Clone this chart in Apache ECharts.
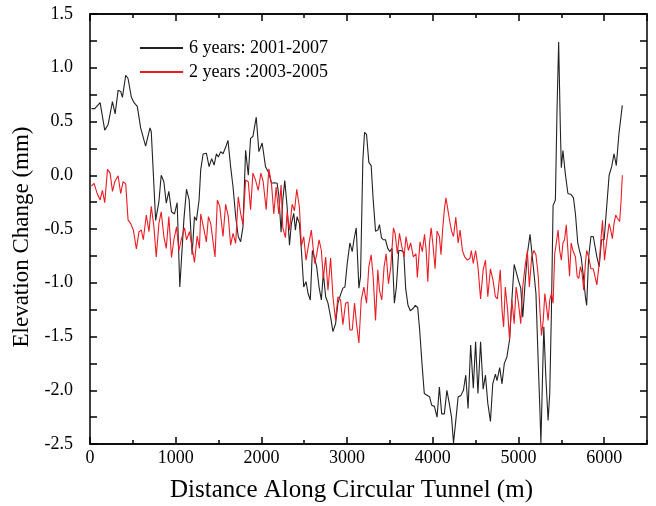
<!DOCTYPE html>
<html>
<head>
<meta charset="utf-8">
<script src="https://cdn.jsdelivr.net/npm/echarts@6/dist/echarts.min.js"></script>
<style>html,body{margin:0;padding:0;background:#fff}#c{width:656px;height:506px}</style>
</head>
<body>
<div id="c"></div>
<script>
const seriesNames = ['6 years: 2001-2007', '2 years :2003-2005'];
const xTickLabels = ['0', '1000', '2000', '3000', '4000', '5000', '6000'];
const yTickLabels = ['-2.5', '-2.0', '-1.5', '-1.0', '-0.5', '0.0', '0.5', '1.0', '1.5'];

const dist6 = [17,56,118,172,211,262,293,328,358,378,417,444,483,514,552,591,649,700,715,766,804,831,862,890,920,951,986,1017,1048,1095,1126,1157,1192,1219,1242,1273,
1292,1320,1358,1390,1420,1448,1475,1498,1525,1552,1583,1610,1641,1669,1700,1730,1758,1785,1816,1847,1874,1901,1940,1971,2009,2048,2087,2118,2149,2184,2203,2230,2250,2273,2300,2328,2350,2378,2397,2417,2444,2467,2494,2521,2545,2571,
2595,2614,2645,2673,2700,2723,2750,2777,2808,2835,2866,2893,2924,2951,2975,3002,3033,3060,3080,3107,3138,3157,3184,3204,3227,3254,3281,3304,3332,3359,3378,3401,3421,3448,3475,3498,3525,3552,3575,3603,3630,3661,3684,3711,3738,3769,3797,3824,3847,3874,3901,
3962,3988,4019,4050,4077,4104,4135,4165,4192,4219,4242,4269,4296,4327,4358,4385,4412,4442,4473,4500,4527,4558,4588,4615,4642,4673,4700,4731,4750,4781,4808,4835,4865,4896,4923,4950,4973,5000,5027,5050,5077,5104,5135,5154,5181,5204,
5231,5250,5262,5281,5296,5319,5346,5365,5385,5404,5431,5450,5469,5488,5500,5519,5546,5577,5615,5642,5665,5692,5712,5731,5758,5781,5796,5819,5846,5873,5896,5915,5942,5969,6000,6027,6058,6088,6115,6142,6173,6212];
const elev6 = [0.62,0.62,0.675,0.42,0.47,0.685,0.57,0.79,0.78,0.725,0.93,0.90,0.725,0.675,0.64,0.44,0.27,0.44,0.405,-0.42,-0.245,0.0,-0.06,-0.26,-0.15,-0.34,-0.36,-0.255,-1.04,-0.42,-0.13,-0.23,-0.74,-0.385,-0.42,-0.23,
0.05,0.198,0.205,0.08,0.155,0.095,0.2,0.17,0.22,0.2,0.26,0.325,0.08,-0.107,-0.385,-0.57,-0.618,-0.48,0.233,0.0,0.343,0.36,0.54,0.22,0.3,0.08,0.02,-0.075,-0.07,-0.075,-0.185,-0.53,-0.23,-0.05,-0.29,-0.65,-0.45,-0.355,-0.51,-0.385,-0.45,-0.70,-1.04,-0.99,-1.10,-1.16,
-0.7,-0.75,-0.85,-1.04,-1.16,-0.91,-1.13,-1.19,-1.32,-1.455,-1.38,-1.19,-1.11,-1.05,-1.04,-0.82,-0.63,-0.71,-0.60,-0.49,-1.05,-0.94,0.14,0.40,0.38,0.12,0.09,-0.22,-0.52,-0.51,-0.46,-0.58,-0.60,-0.60,-0.68,-0.71,-0.68,-1.19,-1.04,-0.70,-0.70,-0.715,-1.055,-1.21,-1.26,-1.24,-1.21,-1.23,-1.44,-1.75,-2.03,
-2.06,-2.14,-2.15,-2.25,-1.97,-2.22,-2.22,-2.0,-2.12,-2.25,-2.49,-2.28,-2.06,-2.05,-2.0,-1.86,-2.17,-1.58,-1.98,-1.55,-2.03,-1.55,-1.99,-1.86,-2.12,-2.29,-1.94,-1.85,-1.91,-1.79,-1.94,-1.75,-1.69,-1.53,-1.16,-0.83,-0.83,-0.98,-1.05,-1.32,-1.01,-0.73,-0.55,-0.56,-0.91,-1.10,
-1.75,-2.18,-2.49,-1.87,-1.41,-1.87,-2.28,-2.03,-1.25,-0.28,-0.23,0.61,1.24,0.47,0.07,0.23,0.02,-0.17,-0.18,-0.21,-0.36,-0.63,-0.70,-0.76,-0.94,-1.13,-1.21,-0.76,-0.57,-0.57,-0.57,-0.76,-0.85,-0.60,-0.60,-0.32,0.0,0.08,0.20,0.09,0.39,0.65];

const dist2 = [17,48,79,118,145,172,204,235,262,289,328,358,386,417,444,475,506,541,572,599,622,657,688,715,746,773,804,831,862,890,920,951,979,1010,1037,1068,1103,1126,1161,1184,1219,1250,1277,
1292,1312,1331,1358,1382,1409,1428,1459,1486,1514,1552,1583,1614,1641,1669,1700,1730,1758,1785,1816,1847,1874,1901,1932,1963,1994,2021,2056,2087,2118,2145,2172,2203,2230,2250,2281,2300,2328,2359,2386,2413,2444,2467,2494,2521,2552,2583,
2622,2645,2673,2700,2723,2750,2777,2808,2835,2866,2893,2924,2951,2983,3010,3033,3060,3087,3110,3138,3165,3196,3227,3254,3281,3304,3332,3359,3378,3405,3432,3456,3483,3510,3541,3560,3587,3611,3638,3665,3688,3715,3742,3773,3804,3820,3851,3878,
3904,3923,3942,3962,3981,4000,4027,4050,4077,4096,4115,4135,4154,4173,4192,4219,4242,4269,4296,4319,4346,4373,4404,4435,4450,4473,4500,4527,4558,4588,4615,4642,4673,4704,4731,4754,4788,4808,4827,4846,4873,4896,4923,4950,4973,5000,5027,5050,5077,5104,5127,5154,5181,5204,
5231,5250,5269,5289,5308,5327,5346,5365,5385,5404,5423,5442,5462,5481,5500,5519,5538,5558,5577,5596,5615,5635,5665,5685,5704,5723,5742,5762,5781,5796,5819,5846,5873,5896,5915,5942,5965,5981,6004,6027,6058,6077,6096,6115,6135,6154,6181,6196,6212];
const elev2 = [-0.1,-0.075,-0.16,-0.23,-0.14,-0.255,0.055,0.02,-0.15,-0.06,-0.005,-0.17,-0.06,-0.08,-0.415,-0.45,-0.51,-0.685,-0.525,-0.51,-0.6,-0.37,-0.525,-0.29,-0.48,-0.76,-0.45,-0.34,-0.57,-0.68,-0.385,-0.765,-0.6,-0.48,-0.7,-0.59,-0.49,-0.6,-0.525,-0.635,-0.81,-0.565,-0.68,
-0.36,-0.35,-0.51,-0.62,-0.385,-0.45,-0.46,-0.76,-0.23,-0.29,-0.57,-0.27,-0.385,-0.65,-0.54,-0.633,-0.2,-0.355,-0.46,-0.045,-0.06,-0.32,0.02,-0.045,-0.14,0.02,-0.06,-0.32,0.06,-0.08,-0.36,-0.11,-0.36,-0.09,-0.49,-0.58,-0.34,-0.51,-0.27,-0.33,-0.13,-0.30,-0.66,-0.57,-0.79,-0.64,-0.51,
-0.82,-0.74,-0.60,-0.70,-0.96,-0.76,-1.07,-0.77,-1.13,-1.35,-1.13,-1.16,-1.39,-1.19,-1.18,-1.44,-1.44,-1.19,-1.38,-1.56,-1.16,-1.04,-1.19,-0.85,-0.74,-0.94,-1.35,-0.88,-1.07,-1.16,-0.85,-0.73,-1.01,-0.85,-0.49,-0.54,-0.73,-0.54,-0.66,-0.76,-0.57,-0.70,-0.63,-0.76,-0.73,-0.95,-0.62,-0.71,
-0.55,-0.70,-0.99,-0.63,-0.49,-0.63,-0.87,-0.52,-0.57,-0.74,-0.51,-0.32,-0.21,-0.21,-0.40,-0.52,-0.57,-0.39,-0.63,-0.51,-0.70,-0.76,-0.79,-0.77,-0.70,-0.82,-0.70,-0.85,-1.15,-0.88,-0.79,-1.13,-0.87,-0.98,-1.13,-1.15,-0.88,-1.25,-1.41,-1.04,-1.25,-1.53,-1.16,-1.38,-1.04,-1.19,-1.38,-1.04,-0.85,-0.70,-1.04,-0.76,-0.70,-0.74,
-0.94,-1.25,-1.49,-1.35,-1.10,-1.22,-1.35,-1.16,-1.10,-1.19,-0.73,-0.63,-0.51,-0.70,-0.79,-0.63,-0.60,-0.46,-0.70,-0.94,-0.63,-0.70,-0.76,-0.94,-0.96,-0.85,-0.91,-1.07,-0.82,-0.70,-0.76,-0.87,-0.87,-0.88,-1.02,-0.82,-0.57,-0.42,-0.79,-0.63,-0.45,-0.51,-0.59,-0.45,-0.37,-0.40,-0.43,-0.26,0.0];

const FONT = '"Liberation Serif", "DejaVu Serif", serif';
const zip = (xs, ys) => xs.map((x, i) => [x, ys[i]]);

const chart = echarts.init(document.getElementById('c'), null, {renderer: 'canvas'});

const lineStyleAxis = {color: '#000', width: 1.5};
function xAx(pos, major, showLabel) {
  return {
    type: 'value', position: pos, min: 0, max: 6500, interval: major ? 1000 : 500,
    axisLine: {show: true, onZero: false, lineStyle: lineStyleAxis},
    axisTick: {show: true, inside: true, length: major ? 7 : 4, lineStyle: {color: '#000', width: 1.5}},
    axisLabel: {show: showLabel, showMaxLabel: false, color: '#000', fontFamily: FONT, fontSize: 18, margin: 5,
      formatter: v => { const i = Math.round(v / 1000); return (v % 1000 === 0 && i < xTickLabels.length) ? xTickLabels[i] : ''; }},
    splitLine: {show: false},
    name: showLabel ? 'Distance Along Circular Tunnel (m)' : '',
    nameLocation: 'middle', nameGap: 34,
    nameTextStyle: {color: '#000', fontFamily: FONT, fontSize: 25, padding: [0, 34, 0, 0]}
  };
}
function yAx(pos, showLabel) {
  return {
    type: 'value', position: pos, min: -2.5, max: 1.5, interval: 0.5,
    axisLine: {show: true, onZero: false, lineStyle: lineStyleAxis},
    axisTick: {show: true, inside: true, length: 7, lineStyle: {color: '#000', width: 1.5}},
    minorTick: {show: true, splitNumber: 2, length: 7, lineStyle: {color: '#000', width: 1.5}},
    axisLabel: {show: showLabel, color: '#000', fontFamily: FONT, fontSize: 18, margin: 17,
      formatter: v => { const i = Math.round((v + 2.5) / 0.5); return yTickLabels[i] || ''; }},
    splitLine: {show: false}, minorSplitLine: {show: false},
    name: showLabel ? 'Elevation Change (mm)' : '',
    nameLocation: 'middle', nameGap: 57,
    nameTextStyle: {color: '#000', fontFamily: FONT, fontSize: 23, padding: [0, 16, 0, 0]}
  };
}

chart.setOption({
  animation: false,
  backgroundColor: '#fff',
  grid: {left: 90, right: 9, top: 14, bottom: 62, containLabel: false, outerBoundsMode: 'none'},
  xAxis: [xAx('bottom', true, true), xAx('bottom', false, false), xAx('top', true, false), xAx('top', false, false)],
  yAxis: [yAx('left', true), yAx('right', false)],
  legend: {
    orient: 'vertical', left: 135, top: 34, itemGap: 6, itemWidth: 43, itemHeight: 2,
    icon: 'rect',
    textStyle: {color: '#000', fontFamily: FONT, fontSize: 18, padding: [0, 0, 0, 1]},
    data: seriesNames
  },
  series: [
    {name: seriesNames[0], type: 'line', xAxisIndex: 0, yAxisIndex: 0, showSymbol: false, symbol: 'none',
     lineStyle: {color: '#222', width: 1.1}, itemStyle: {color: '#222'}, data: zip(dist6, elev6)},
    {name: seriesNames[1], type: 'line', xAxisIndex: 0, yAxisIndex: 0, showSymbol: false, symbol: 'none',
     lineStyle: {color: '#ec1c24', width: 1.1}, itemStyle: {color: '#ec1c24'}, data: zip(dist2, elev2)}
  ]
});
</script>
</body>
</html>
